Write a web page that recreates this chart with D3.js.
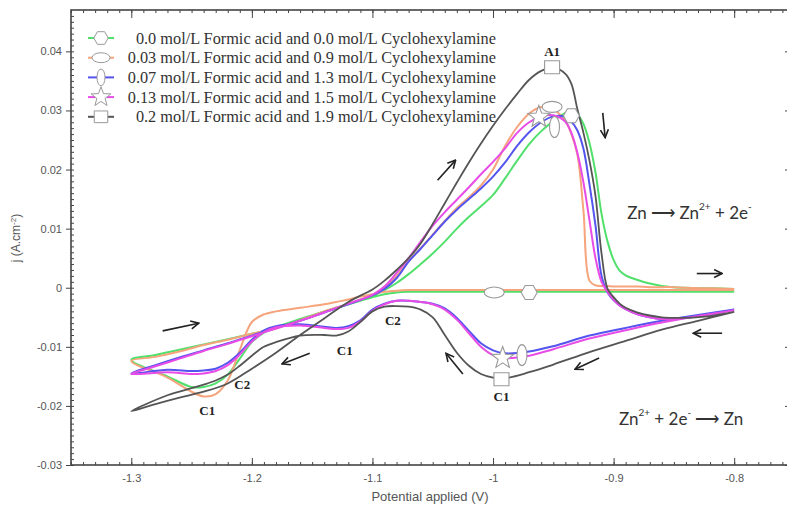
<!DOCTYPE html>
<html>
<head>
<meta charset="utf-8">
<title>Cyclic voltammograms</title>
<script src="https://cdn.jsdelivr.net/npm/d3@7/dist/d3.min.js"></script>
<style>
  body { margin: 0; background: #ffffff; }
  #chart svg { display: block; }
</style>
</head>
<body>
<div id="chart"></div>
<script>
// potential sweep (V): cathodic scan -0.8 -> -1.3, then anodic scan back to -0.8
const cathodicV = [-0.80, -0.83, -0.86, -0.89, -0.92, -0.95, -0.97, -0.99, -1.00, -1.01, -1.02, -1.03, -1.04, -1.05, -1.06, -1.07, -1.08,
  -1.09, -1.10, -1.11, -1.12, -1.13, -1.14, -1.16, -1.18, -1.19, -1.20, -1.21, -1.22, -1.23, -1.24, -1.25, -1.27, -1.30];
const anodicV = [-1.28, -1.26, -1.24, -1.22, -1.20, -1.18, -1.16, -1.14, -1.12, -1.10, -1.09, -1.08, -1.07, -1.06, -1.05, -1.04, -1.03,
  -1.02, -1.01, -1.00, -0.99, -0.98, -0.97, -0.96, -0.95, -0.94, -0.935, -0.93, -0.925, -0.92, -0.915, -0.91, -0.905, -0.90, -0.895,
  -0.89, -0.88, -0.87, -0.86, -0.85, -0.84, -0.82, -0.80];

// current density j (A.cm-2), first the cathodic values, then the anodic ones
const jGreen = [
  -0.0007, -0.0007, -0.0007, -0.0007, -0.0007, -0.0007, -0.0007, -0.0007, -0.0007, -0.0007, -0.0007, -0.0007, -0.0007, -0.0007, -0.0007, -0.0007, -0.0008,
  -0.0011, -0.0016, -0.0022, -0.0028, -0.0034, -0.0040, -0.0053, -0.0067, -0.0076, -0.0092, -0.0120, -0.0147, -0.0162, -0.0168, -0.0168, -0.0150, -0.0122,
  -0.0114, -0.0105, -0.0096, -0.0087, -0.0078, -0.0068, -0.0054, -0.0041, -0.0028, -0.0014, -0.0004, 0.0008, 0.0023, 0.0040, 0.0058, 0.0078, 0.0100,
  0.0120, 0.0138, 0.0157, 0.0185, 0.0215, 0.0243, 0.0265, 0.0282, 0.0296, 0.0298, 0.0293, 0.0277, 0.0245, 0.0195, 0.0125, 0.0078, 0.0047, 0.0029,
  0.0021, 0.0013, 0.0007, 0.0003, 0.0001, 0.0000, -0.0001, -0.0002];
const jOrange = [
  -0.0004, -0.0004, -0.0004, -0.0004, -0.0004, -0.0004, -0.0004, -0.0004, -0.0004, -0.0004, -0.0004, -0.0004, -0.0004, -0.0004, -0.0004, -0.0004, -0.0005,
  -0.0007, -0.0011, -0.0015, -0.0020, -0.0024, -0.0028, -0.0034, -0.0040, -0.0045, -0.0058, -0.0105, -0.0157, -0.0180, -0.0184, -0.0176, -0.0152, -0.0124,
  -0.0117, -0.0108, -0.0097, -0.0088, -0.0078, -0.0069, -0.0055, -0.0040, -0.0027, -0.0012, 0.0001, 0.0020, 0.0045, 0.0067, 0.0090, 0.0113, 0.0135,
  0.0153, 0.0173, 0.0200, 0.0240, 0.0272, 0.0295, 0.0306, 0.0302, 0.0282, 0.0260, 0.0225, 0.0130, 0.0012, 0.0004, 0.0003, 0.0003, 0.0002, 0.0002,
  0.0002, 0.0002, 0.0001, 0.0001, 0.0001, 0.0000, -0.0001, -0.0002];
const jBlue = [
  -0.0037, -0.0046, -0.0056, -0.0068, -0.0081, -0.0099, -0.0108, -0.0111, -0.0106, -0.0094, -0.0073, -0.0051, -0.0035, -0.0027, -0.0024, -0.0022, -0.0022,
  -0.0027, -0.0037, -0.0055, -0.0065, -0.0068, -0.0066, -0.0062, -0.0065, -0.0072, -0.0088, -0.0110, -0.0127, -0.0137, -0.0140, -0.0141, -0.0139, -0.0145,
  -0.0131, -0.0118, -0.0106, -0.0094, -0.0081, -0.0068, -0.0056, -0.0042, -0.0028, -0.0013, -0.0002, 0.0016, 0.0044, 0.0066, 0.0089, 0.0112, 0.0132,
  0.0150, 0.0168, 0.0188, 0.0212, 0.0240, 0.0263, 0.0280, 0.0290, 0.0289, 0.0281, 0.0266, 0.0235, 0.0175, 0.0105, 0.0020, -0.0008, -0.0021, -0.0030,
  -0.0036, -0.0045, -0.0050, -0.0053, -0.0053, -0.0051, -0.0045, -0.0037];
const jMagenta = [
  -0.0038, -0.0048, -0.0059, -0.0072, -0.0086, -0.0104, -0.0115, -0.0119, -0.0114, -0.0100, -0.0077, -0.0054, -0.0037, -0.0028, -0.0024, -0.0022, -0.0022,
  -0.0028, -0.0039, -0.0057, -0.0068, -0.0070, -0.0068, -0.0064, -0.0067, -0.0075, -0.0091, -0.0113, -0.0131, -0.0141, -0.0145, -0.0146, -0.0143, -0.0146,
  -0.0133, -0.0120, -0.0107, -0.0095, -0.0082, -0.0069, -0.0056, -0.0042, -0.0027, -0.0012, 0.0002, 0.0025, 0.0050, 0.0078, 0.0105, 0.0128, 0.0149,
  0.0170, 0.0192, 0.0213, 0.0236, 0.0262, 0.0280, 0.0290, 0.0292, 0.0281, 0.0262, 0.0228, 0.0178, 0.0114, 0.0050, 0.0010, -0.0007, -0.0020, -0.0030,
  -0.0036, -0.0045, -0.0050, -0.0053, -0.0053, -0.0051, -0.0045, -0.0038];
const jGray = [
  -0.0041, -0.0056, -0.0071, -0.0090, -0.0109, -0.0130, -0.0143, -0.0153, -0.0152, -0.0146, -0.0132, -0.0110, -0.0080, -0.0050, -0.0037, -0.0032, -0.0031,
  -0.0032, -0.0040, -0.0058, -0.0074, -0.0081, -0.0080, -0.0081, -0.0092, -0.0100, -0.0115, -0.0132, -0.0147, -0.0157, -0.0164, -0.0170, -0.0182, -0.0209,
  -0.0197, -0.0186, -0.0176, -0.0162, -0.0137, -0.0110, -0.0080, -0.0052, -0.0024, -0.0003, 0.0012, 0.0030, 0.0050, 0.0075, 0.0108, 0.0143, 0.0178,
  0.0212, 0.0244, 0.0274, 0.0302, 0.0328, 0.0352, 0.0367, 0.0373, 0.0362, 0.0345, 0.0302, 0.0262, 0.0215, 0.0155, 0.0058, -0.0002, -0.0016, -0.0027,
  -0.0034, -0.0042, -0.0047, -0.0050, -0.0051, -0.0051, -0.0048, -0.0041];

const seriesLabels = [
  "0.0 mol/L Formic acid and 0.0 mol/L Cyclohexylamine",
  "0.03 mol/L Formic acid and 0.9 mol/L Cyclohexylamine",
  "0.07 mol/L Formic acid and 1.3 mol/L Cyclohexylamine",
  "0.13 mol/L Formic acid and 1.5 mol/L Cyclohexylamine",
  "0.2 mol/L Formic acid and 1.9 mol/L Cyclohexylamine"
];
const seriesJ = [jGreen, jOrange, jBlue, jMagenta, jGray];
const seriesColors = ["#52e06c", "#f5a47c", "#5454ee", "#e84ce6", "#555555"];
const seriesSymbols = ["hexagon", "ellipseH", "ellipseV", "star", "square"];

// symbols placed on the curves (series index, V, j)
const markerSeries = [0, 1, 2, 3, 4, 4, 3, 2, 1, 0];
const markerV = [-0.935, -0.951, -0.949, -0.962, -0.951, -0.993, -0.992, -0.976, -0.999, -0.970];
const markerJ = [0.0291, 0.0306, 0.0272, 0.0289, 0.0373, -0.0155, -0.0119, -0.0114, -0.0008, -0.0008];

// peak labels
const peakNames = ["A1", "C1", "C2", "C1", "C2", "C1"];
const peakV = [-0.951, -1.237, -1.208, -1.123, -1.083, -0.993];
const peakJ = [0.0400, -0.0208, -0.0163, -0.0106, -0.0056, -0.0184];

// scan direction arrows, start and end in data units
const arrowV0 = [-1.046, -0.909, -0.831, -0.810, -0.912, -1.025, -1.274, -1.152];
const arrowJ0 = [0.0182, 0.0296, 0.0024, -0.0077, -0.0119, -0.0146, -0.0073, -0.0111];
const arrowV1 = [-1.031, -0.907, -0.810, -0.834, -0.932, -1.039, -1.244, -1.175];
const arrowJ1 = [0.0216, 0.0254, 0.0024, -0.0077, -0.0138, -0.0111, -0.0060, -0.0129];

const xTicks = [-1.3, -1.2, -1.1, -1, -0.9, -0.8];
const yTicks = [0.04, 0.03, 0.02, 0.01, 0, -0.01, -0.02, -0.03];

const width = 787, height = 508;
const svg = d3.select("#chart").append("svg")
  .attr("width", width)
  .attr("height", height)
  .style("background", "#fff");

const x = d3.scaleLinear().domain([-1.35, -0.7537]).range([71, 790]);
const y = d3.scaleLinear().domain([-0.03, 0.047]).range([465, 10]);

const axisColor = "#444";
const labelFont = "'Liberation Sans', Arial, sans-serif";

// minor ticks
const xMinor = d3.range(-1.35, -0.75, 0.01).map(d => +d.toFixed(2));
const yMinor = d3.range(-0.03, 0.047, 0.001).map(d => +d.toFixed(3));

function styleAxis(g) {
  g.select(".domain").remove();
  g.selectAll(".tick line").attr("stroke", axisColor).attr("stroke-width", 1);
  g.selectAll(".tick text").attr("fill", "#555").style("font-family", labelFont).style("font-size", "11px");
}

svg.append("g").attr("transform", "translate(0,465)")
  .call(d3.axisBottom(x).tickValues(xMinor).tickFormat("").tickSizeInner(-3).tickSizeOuter(0)).call(styleAxis);
svg.append("g").attr("transform", "translate(0,465)")
  .call(d3.axisBottom(x).tickValues(xTicks).tickFormat(d => String(d)).tickSizeInner(-7).tickSizeOuter(0).tickPadding(9))
  .call(styleAxis);
svg.append("g").attr("transform", "translate(0,10)")
  .call(d3.axisTop(x).tickValues(xMinor).tickFormat("").tickSizeInner(-3).tickSizeOuter(0)).call(styleAxis);
svg.append("g").attr("transform", "translate(0,10)")
  .call(d3.axisTop(x).tickValues(xTicks).tickFormat("").tickSizeInner(-8).tickSizeOuter(0)).call(styleAxis);
svg.append("g").attr("transform", "translate(71,0)")
  .call(d3.axisLeft(y).tickValues(yMinor).tickFormat("").tickSizeInner(-3).tickSizeOuter(0)).call(styleAxis);
svg.append("g").attr("transform", "translate(71,0)")
  .call(d3.axisLeft(y).tickValues(yTicks).tickFormat(d => String(d)).tickSizeInner(5).tickSizeOuter(0).tickPadding(4))
  .call(styleAxis);
svg.append("g").attr("transform", "translate(790,0)")
  .call(d3.axisRight(y).tickValues(yTicks).tickFormat("").tickSizeInner(-5).tickSizeOuter(0)).call(styleAxis);

// frame
svg.append("rect")
  .attr("x", 71).attr("y", 10)
  .attr("width", 790 - 71).attr("height", 465 - 10)
  .attr("fill", "none").attr("stroke", axisColor).attr("stroke-width", 1.6);

// axis titles
svg.append("text")
  .attr("x", 430).attr("y", 501)
  .attr("text-anchor", "middle")
  .attr("fill", "#555")
  .style("font-family", labelFont).style("font-size", "13px")
  .text("Potential applied (V)");

const yTitle = svg.append("text")
  .attr("transform", "translate(20,238) rotate(-90)")
  .attr("text-anchor", "middle")
  .attr("fill", "#555")
  .style("font-family", labelFont).style("font-size", "12px");
yTitle.append("tspan").text("j (A.cm");
yTitle.append("tspan").attr("dy", -4).style("font-size", "8px").text("-2");
yTitle.append("tspan").attr("dy", 4).text(")");

// curves
const sweepV = cathodicV.concat(anodicV);
const line = d3.line()
  .x(d => x(d[0]))
  .y(d => y(d[1]))
  .curve(d3.curveCatmullRom.alpha(0.5));

seriesJ.forEach((js, i) => {
  const pts = sweepV.map((v, k) => [v, js[k]]);
  svg.append("path")
    .datum(pts)
    .attr("d", line)
    .attr("fill", "none")
    .attr("stroke", seriesColors[i])
    .attr("stroke-width", i === 4 ? 1.8 : 2)
    .attr("stroke-linejoin", "round");
});

// marker shapes
function symbolPath(type, k) {
  k = k || 1;
  if (type === "hexagon") {
    const w = 8 * k, h = 7 * k;
    return `M${-w},0L${-w / 2},${-h}L${w / 2},${-h}L${w},0L${w / 2},${h}L${-w / 2},${h}Z`;
  }
  if (type === "ellipseH") {
    const rx = 10 * k, ry = 5.5 * k;
    return `M${-rx},0A${rx},${ry} 0 1,0 ${rx},0A${rx},${ry} 0 1,0 ${-rx},0Z`;
  }
  if (type === "ellipseV") {
    const rx = 5 * k, ry = 10.5 * k;
    return `M0,${-ry}A${rx},${ry} 0 1,0 0,${ry}A${rx},${ry} 0 1,0 0,${-ry}Z`;
  }
  if (type === "star") {
    const ro = 11.5 * k, ri = 4.8 * k;
    let p = "";
    for (let i = 0; i < 10; i++) {
      const r = i % 2 === 0 ? ro : ri;
      const a = -Math.PI / 2 + i * Math.PI / 5;
      p += (i === 0 ? "M" : "L") + (r * Math.cos(a)).toFixed(2) + "," + (r * Math.sin(a)).toFixed(2);
    }
    return p + "Z";
  }
  // square
  const w = 7.5 * k, h = 6.5 * k;
  return `M${-w},${-h}H${w}V${h}H${-w}Z`;
}

markerSeries.forEach((s, i) => {
  svg.append("path")
    .attr("transform", `translate(${x(markerV[i])},${y(markerJ[i])})`)
    .attr("d", symbolPath(seriesSymbols[s]))
    .attr("fill", "#fff")
    .attr("stroke", "#999")
    .attr("stroke-width", 1.1);
});

// peak labels
peakNames.forEach((t, i) => {
  svg.append("text")
    .attr("x", x(peakV[i])).attr("y", y(peakJ[i]))
    .attr("text-anchor", "middle")
    .attr("dominant-baseline", "central")
    .attr("fill", "#222")
    .style("font-family", "'Liberation Serif', 'Times New Roman', serif")
    .style("font-size", "13px")
    .style("font-weight", "bold")
    .text(t);
});

// arrows
svg.append("defs").append("marker")
  .attr("id", "head")
  .attr("viewBox", "0 0 10 10")
  .attr("refX", 9).attr("refY", 5)
  .attr("markerWidth", 10).attr("markerHeight", 10)
  .attr("markerUnits", "userSpaceOnUse")
  .attr("orient", "auto")
  .append("path")
  .attr("d", "M1,1L9,5L1,9")
  .attr("fill", "none")
  .attr("stroke", "#222")
  .attr("stroke-width", 1.6);

arrowV0.forEach((v, i) => {
  svg.append("line")
    .attr("x1", x(v)).attr("y1", y(arrowJ0[i]))
    .attr("x2", x(arrowV1[i])).attr("y2", y(arrowJ1[i]))
    .attr("stroke", "#222")
    .attr("stroke-width", 1.6)
    .attr("marker-end", "url(#head)");
});

// reaction equations
function equation(px, py, parts) {
  const t = svg.append("text")
    .attr("x", px).attr("y", py)
    .attr("text-anchor", "middle")
    .attr("dominant-baseline", "central")
    .attr("fill", "#333")
    .style("font-family", "Lato, 'Open Sans', sans-serif")
    .style("font-size", "17px");
  let up = false;
  parts.forEach(p => {
    const sp = t.append("tspan").text(p.t);
    if (p.sup && !up) { sp.attr("dy", -6).style("font-size", "10px"); up = true; }
    else if (p.sup) { sp.style("font-size", "10px"); }
    else if (up) { sp.attr("dy", 6); up = false; }
  });
}
equation(x(-0.837), y(0.0128), [{ t: "Zn \u27F6 Zn" }, { t: "2+", sup: true }, { t: " + 2e" }, { t: "-", sup: true }]);
equation(x(-0.844), y(-0.0221), [{ t: "Zn" }, { t: "2+", sup: true }, { t: " + 2e" }, { t: "-", sup: true }, { t: " \u27F6 Zn" }]);

// legend
const legend = svg.append("g");
seriesLabels.forEach((lab, i) => {
  const ly = 38 + i * 19.7;
  legend.append("line")
    .attr("x1", 88).attr("x2", 114)
    .attr("y1", ly).attr("y2", ly)
    .attr("stroke", seriesColors[i]).attr("stroke-width", 2);
  legend.append("path")
    .attr("transform", `translate(101,${ly})`)
    .attr("d", symbolPath(seriesSymbols[i], i === 2 ? 0.8 : 0.9))
    .attr("fill", "#fff")
    .attr("stroke", "#999")
    .attr("stroke-width", 1);
  legend.append("text")
    .attr("x", 496).attr("y", ly)
    .attr("text-anchor", "end")
    .attr("dominant-baseline", "central")
    .attr("fill", "#333")
    .style("font-family", "'Liberation Serif', 'Times New Roman', serif")
    .style("font-size", "16.3px")
    .text(lab);
});
</script>
</body>
</html>
